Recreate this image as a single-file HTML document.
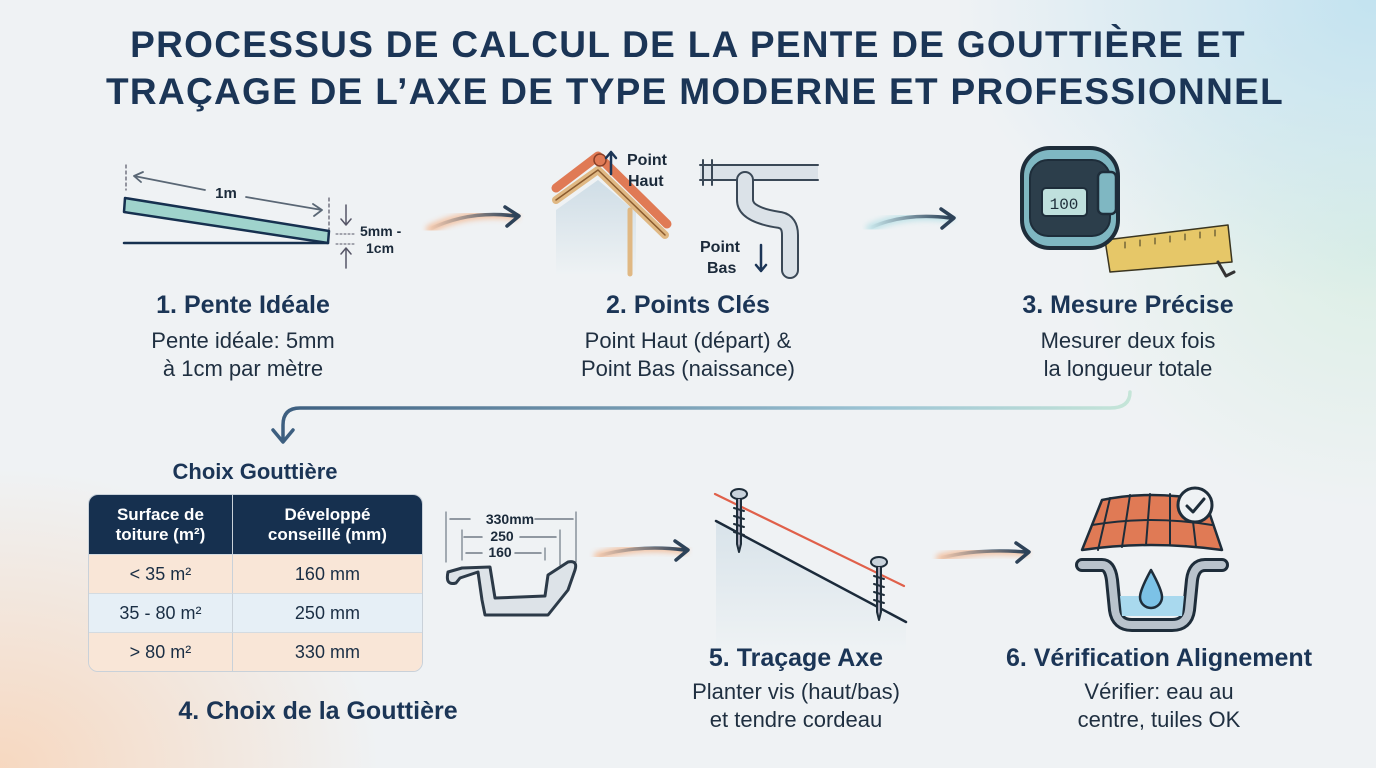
<!DOCTYPE html>
<html><head><meta charset="utf-8"><style>
html,body{margin:0;padding:0;width:1376px;height:768px;overflow:hidden}
body{background:#eff2f4;font-family:"Liberation Sans","DejaVu Sans",sans-serif;position:relative;color:#1a2e44}
.bg{position:absolute;inset:0;background:
radial-gradient(ellipse 380px 300px at 0px 768px,rgba(250,205,170,.7),rgba(250,205,170,0) 100%),
radial-gradient(ellipse 420px 300px at 1376px 0px,rgba(190,225,240,.9),rgba(190,225,240,0) 100%),
radial-gradient(ellipse 300px 260px at 1376px 250px,rgba(200,235,215,.5),rgba(200,235,215,0) 100%)}
.t{position:absolute;text-align:center;white-space:nowrap;transform:translateX(-50%)}
.title{font-weight:900;font-size:37px;color:#1b3556;letter-spacing:1.3px}
.h{font-weight:bold;font-size:25px;color:#1b3556}
.d{font-size:22px;color:#1f2f40;line-height:28px}
table{position:absolute;left:88px;top:494px;width:335px;border-collapse:separate;border-spacing:0;border:1px solid #c9d1d9;border-radius:10px;overflow:hidden;font-size:18px;text-align:center}
th{background:#16304f;color:#fff;height:57px;font-size:17px;font-weight:bold;line-height:20px}
td{height:38px;padding:0;border-top:1px solid #d4dbe1}
td+td,th+th{border-left:1px solid #c9d1d9}
.r1 td,.r3 td{background:#f9e6d7}.r2 td{background:#e6eff6}
</style></head><body><div class="bg"></div>
<div class="t title" style="left:688px;top:24px">PROCESSUS DE CALCUL DE LA PENTE DE GOUTTIÈRE ET</div>
<div class="t title" style="left:695px;top:71px">TRAÇAGE DE L’AXE DE TYPE MODERNE ET PROFESSIONNEL</div>

<svg width="1376" height="768" style="position:absolute;left:0;top:0" fill="none" stroke-linecap="round" stroke-linejoin="round">
<defs>
<filter id="gl"><feGaussianBlur stdDeviation="3"/></filter>
<linearGradient id="ar" x1="0" x2="1"><stop offset="0" stop-color="#2d4258" stop-opacity="0"/><stop offset="1" stop-color="#2d4258"/></linearGradient>
<linearGradient id="lc" x1="0" x2="1"><stop offset="0" stop-color="#3d5f80"/><stop offset=".7" stop-color="#9cc4d4"/><stop offset="1" stop-color="#c5e5d8"/></linearGradient>
<linearGradient id="wall" x1="0" y1="0" x2="0" y2="1"><stop offset="0" stop-color="#cfdde6"/><stop offset="1" stop-color="#eef2f4"/></linearGradient>
</defs>
<line x1="126" y1="165" x2="126" y2="190" stroke="#556" stroke-dasharray="3 3" stroke-width="1.2"/>
<line x1="329" y1="198" x2="329" y2="232" stroke="#556" stroke-dasharray="3 3" stroke-width="1.2"/>
<path d="M134 176 L205 190 M246 197 L322 210 M134 176 l9 -4 M134 176 l7 6 M322 210 l-9 -6 M322 210 l-8 6" stroke="#5a6775" stroke-width="1.8"/>
<text x="226" y="198" font-size="15" font-weight="bold" fill="#1b2a3a" stroke="none" font-family="Liberation Sans" text-anchor="middle">1m</text>
<polygon points="125,198 329,231 328,243 124,212" fill="#9fd3cc" stroke="#16304f" stroke-width="2.5"/>
<line x1="124" y1="243" x2="328" y2="243" stroke="#16304f" stroke-width="2.5"/>
<path d="M336 234 h20 M336 244 h20" stroke="#556" stroke-dasharray="2 2"/>
<path d="M346 205 v20 l-5 -6 M346 225 l5 -6 M346 268 v-20 l-5 6 M346 248 l5 6" stroke="#556" stroke-width="1.5"/>
<text x="360" y="236" font-size="14" font-weight="bold" fill="#1b2a3a" stroke="none" font-family="Liberation Sans">5mm -</text>
<text x="366" y="253" font-size="14" font-weight="bold" fill="#1b2a3a" stroke="none" font-family="Liberation Sans">1cm</text>
<g>
<path d="M430 229 Q470 210 515 216" stroke="#f5a16a" stroke-width="8" filter="url(#gl)" opacity=".6"/>
<path d="M430 229 Q470 210 515 216" stroke="url(#ar)" stroke-width="3.5"/>
<path d="M505 207 L519 216 L507 226" stroke="#2d4258" stroke-width="3.5"/>
</g>
<g>
<path d="M870 228 Q905 212 950 218" stroke="#9fd8e0" stroke-width="8" filter="url(#gl)" opacity=".6"/>
<path d="M870 228 Q905 212 950 218" stroke="url(#ar)" stroke-width="3.5"/>
<path d="M941 209 L954 218 L942 228" stroke="#2d4258" stroke-width="3.5"/>
</g>
<g>
<path d="M598 556 Q640 544 684 550" stroke="#f5a16a" stroke-width="8" filter="url(#gl)" opacity=".6"/>
<path d="M598 556 Q640 544 684 550" stroke="url(#ar)" stroke-width="3.5"/>
<path d="M675 541 L688 550 L676 560" stroke="#2d4258" stroke-width="3.5"/>
</g>
<g>
<path d="M940 558 Q980 548 1025 552" stroke="#f5a16a" stroke-width="8" filter="url(#gl)" opacity=".6"/>
<path d="M940 558 Q980 548 1025 552" stroke="url(#ar)" stroke-width="3.5"/>
<path d="M1016 543 L1029 552 L1017 562" stroke="#2d4258" stroke-width="3.5"/>
</g>
<path d="M1130 392 Q1130 408 1110 408 L300 408 Q283 408 283 425 L283 440" stroke="url(#lc)" stroke-width="3.5"/>
<path d="M273 430 L283 442 L293 430" stroke="#3d5f80" stroke-width="3.5"/>
<path d="M556 210 L598 180 L636 212 L636 274 L556 274 Z" fill="url(#wall)" stroke="none"/>
<path d="M556 200 L598 170 L665 235" stroke="#e0b883" stroke-width="8"/>
<path d="M556 200 L598 170 L665 235" stroke="#8a5a2e" stroke-width="1.5"/>
<path d="M556 188 L598 156 L667 224" stroke="#e07a55" stroke-width="9"/>
<circle cx="600" cy="160" r="6" fill="#e07a55" stroke="#8a4028" stroke-width="1.5"/>
<path d="M630 210 v64" stroke="#e0b883" stroke-width="5"/>
<path d="M611 174 v-22 l-5 6 M611 152 l5 6" stroke="#1b3556" stroke-width="2.5"/>
<text x="627" y="165" font-size="16" font-weight="bold" fill="#1b2a3a" stroke="none" font-family="Liberation Sans">Point</text>
<text x="628" y="186" font-size="16" font-weight="bold" fill="#1b2a3a" stroke="none" font-family="Liberation Sans">Haut</text>
<rect x="700" y="165" width="118" height="15" fill="#dbe2e8" stroke="none"/>
<path d="M700 165 h118 M700 180 h118 M703 160 v25 M712 160 v25" stroke="#3a4856" stroke-width="2"/>
<path d="M745 180 v20 Q745 215 780 220 Q790 222 790 235 v35" stroke="#3a4856" stroke-width="18"/>
<path d="M745 180 v20 Q745 215 780 220 Q790 222 790 235 v35" stroke="#dbe2e8" stroke-width="14"/>
<text x="700" y="252" font-size="16" font-weight="bold" fill="#1b2a3a" stroke="none" font-family="Liberation Sans">Point</text>
<text x="707" y="273" font-size="16" font-weight="bold" fill="#1b2a3a" stroke="none" font-family="Liberation Sans">Bas</text>
<path d="M761 245 v26 l-5 -6 M761 271 l5 -6" stroke="#1b3556" stroke-width="2.5"/>
<path d="M1105 240 L1228 225 L1232 262 L1110 272 Z" fill="#e6c768" stroke="#3a3520" stroke-width="1.5"/>
<path d="M1125 242 v6 M1140 240 v6 M1155 238 v6 M1170 236 v6 M1185 234 v6 M1200 232 v6 M1215 230 v6" stroke="#3a3520"/>
<path d="M1218 262 l8 14 l8 -4" stroke="#333" stroke-width="3"/>
<rect x="1022" y="148" width="96" height="100" rx="28" fill="#7fb7c2" stroke="#1e2d3a" stroke-width="4"/>
<rect x="1030" y="160" width="80" height="76" rx="18" fill="#2c3e4b" stroke="#1e2d3a" stroke-width="2"/>
<rect x="1042" y="188" width="45" height="28" rx="4" fill="#bfe0dd" stroke="#1e2d3a" stroke-width="2"/>
<text x="1064" y="209" font-size="16" fill="#1e2d3a" stroke="none" font-family="Liberation Mono" text-anchor="middle">100</text>
<rect x="1098" y="172" width="18" height="42" rx="5" fill="#7fb7c2" stroke="#1e2d3a" stroke-width="2.5"/>
<path d="M446 512 v50 M576 512 v50 M462 530 v30 M560 530 v35 M462 548 v12 M545 548 v12" stroke="#707a85" stroke-width="1.2"/>
<path d="M450 519 h20 M535 519 h38 M464 537 h18 M520 537 h36 M466 553 h16 M515 553 h26" stroke="#707a85" stroke-width="1.5"/>
<text x="510" y="524" font-size="14" font-weight="bold" fill="#1b2a3a" stroke="none" font-family="Liberation Sans" text-anchor="middle">330mm</text>
<text x="502" y="541" font-size="14" font-weight="bold" fill="#1b2a3a" stroke="none" font-family="Liberation Sans" text-anchor="middle">250</text>
<text x="500" y="557" font-size="14" font-weight="bold" fill="#1b2a3a" stroke="none" font-family="Liberation Sans" text-anchor="middle">160</text>
<path d="M448 572 Q445 586 456 583 L460 578 L478 572 L482 600 L485 615 L548 615 L568 590 L575 570 Q578 560 568 562 L548 575 L545 596 L495 598 L490 567 L462 568 Z" fill="#dde3e8" stroke="#2c3a48" stroke-width="3"/>
<path d="M716 505 L716 650 L906 650 L906 620 L716 520 Z" fill="url(#wall)" stroke="none" opacity=".8"/>
<path d="M716 521 L906 622" stroke="#1b2a3a" stroke-width="2.5"/>
<path d="M715 494 L904 586" stroke="#e0604a" stroke-width="2.2"/>
<g stroke="#1e2d3a" stroke-width="2" fill="#c9d3dc">
<ellipse cx="739" cy="494" rx="8" ry="5"/><path d="M737 499 v45 l2 8 l2 -8 v-45" fill="#aab"/>
<path d="M734 508 l10 3 M734 516 l10 3 M734 524 l10 3 M734 532 l10 3"/>
<ellipse cx="879" cy="562" rx="8" ry="5"/><path d="M877 567 v45 l2 8 l2 -8 v-45" fill="#aab"/>
<path d="M874 576 l10 3 M874 584 l10 3 M874 592 l10 3 M874 600 l10 3"/>
</g>
<path d="M1082 550 L1102 500 Q1150 490 1205 500 L1222 550 Q1150 540 1082 550Z" fill="#e07a55" stroke="#1e2d3a" stroke-width="2.5"/>
<path d="M1092 525 Q1150 515 1212 525 M1110 498 L1098 550 M1130 495 L1122 547 M1150 494 L1146 545 M1170 494 L1170 545 M1190 496 L1196 547" stroke="#1e2d3a" stroke-width="2"/>
<circle cx="1195" cy="505" r="17" fill="#eff2f4" stroke="#1e2d3a" stroke-width="3"/>
<path d="M1187 506 l6 6 l11 -13" stroke="#1e2d3a" stroke-width="3"/>
<path d="M1082 565 h20 Q1110 565 1112 580 L1115 610 Q1117 625 1132 625 L1172 625 Q1187 625 1189 610 L1192 580 Q1194 565 1205 565 h17" stroke="#1e2d3a" stroke-width="14"/>
<path d="M1082 565 h20 Q1110 565 1112 580 L1115 610 Q1117 625 1132 625 L1172 625 Q1187 625 1189 610 L1192 580 Q1194 565 1205 565 h17" stroke="#b9c3cc" stroke-width="8"/>
<path d="M1120 596 L1184 596 L1182 616 L1122 616 Z" fill="#a9d9ee" stroke="none"/>
<path d="M1151 570 Q1140 590 1140 597 a11 11 0 0 0 22 0 Q1162 590 1151 570Z" fill="#7cc2e6" stroke="#1e2d3a" stroke-width="2.5"/>
</svg>

<div class="t h" style="left:243px;top:291px">1. Pente Idéale</div>
<div class="t d" style="left:243px;top:327px">Pente idéale: 5mm<br>à 1cm par mètre</div>
<div class="t h" style="left:688px;top:291px">2. Points Clés</div>
<div class="t d" style="left:688px;top:327px">Point Haut (départ) &amp;<br>Point Bas (naissance)</div>
<div class="t h" style="left:1128px;top:291px">3. Mesure Précise</div>
<div class="t d" style="left:1128px;top:327px">Mesurer deux fois<br>la longueur totale</div>
<div class="t h" style="left:255px;top:459px;font-size:22px">Choix Gouttière</div>
<table>
<tr><th>Surface de<br>toiture (m²)</th><th>Développé<br>conseillé (mm)</th></tr>
<tr class="r1"><td>&lt; 35 m²</td><td>160 mm</td></tr>
<tr class="r2"><td>35 - 80 m²</td><td>250 mm</td></tr>
<tr class="r3"><td>&gt; 80 m²</td><td>330 mm</td></tr>
</table>
<div class="t h" style="left:318px;top:697px">4. Choix de la Gouttière</div>
<div class="t h" style="left:796px;top:644px">5. Traçage Axe</div>
<div class="t d" style="left:796px;top:678px">Planter vis (haut/bas)<br>et tendre cordeau</div>
<div class="t h" style="left:1159px;top:644px">6. Vérification Alignement</div>
<div class="t d" style="left:1159px;top:678px">Vérifier: eau au<br>centre, tuiles OK</div>
</body></html>
